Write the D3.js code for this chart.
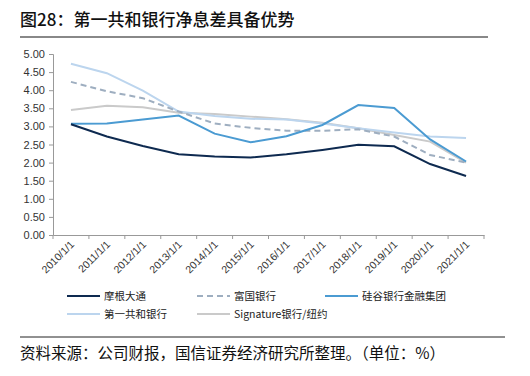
<!DOCTYPE html>
<html><head><meta charset="utf-8">
<script src="https://cdn.jsdelivr.net/npm/d3@7"></script>
<style>body{margin:0;background:#fff;} svg{display:block;}</style>
</head><body>
<svg id="c" width="530" height="376"></svg>
<script>
const categories = ["2010/1/1","2011/1/1","2012/1/1","2013/1/1","2014/1/1","2015/1/1","2016/1/1","2017/1/1","2018/1/1","2019/1/1","2020/1/1","2021/1/1"];
const jpm  = [3.06,2.72,2.46,2.23,2.17,2.14,2.23,2.35,2.49,2.45,1.96,1.63];
const wfc  = [4.23,3.97,3.78,3.41,3.08,2.96,2.88,2.88,2.92,2.72,2.21,2.00];
const svb  = [3.07,3.08,3.19,3.30,2.80,2.56,2.73,3.04,3.59,3.51,2.64,2.03];
const frc  = [4.73,4.47,3.99,3.41,3.29,3.21,3.19,3.08,2.95,2.83,2.72,2.68];
const sbny = [3.45,3.57,3.53,3.38,3.34,3.27,3.20,3.10,2.95,2.76,2.58,2.00];
const seriesNames = ["摩根大通","富国银行","硅谷银行金融集团","第一共和银行","Signature银行/纽约"];
const yTicks = [0,0.5,1,1.5,2,2.5,3,3.5,4,4.5,5];

const series = [
  {name: seriesNames[0], values: jpm,  color: "#0e2a50", dash: null},
  {name: seriesNames[1], values: wfc,  color: "#9eaec0", dash: "6,4"},
  {name: seriesNames[2], values: svb,  color: "#4b9bd2", dash: null},
  {name: seriesNames[3], values: frc,  color: "#bcd5ee", dash: null},
  {name: seriesNames[4], values: sbny, color: "#cacaca", dash: null}
];

const svg = d3.select("#c");
const cjk = "'Noto Sans CJK SC', sans-serif";
const lat = "'Liberation Sans', Arial, sans-serif";

// Title
svg.append("text").attr("x", 20).attr("y", 26)
  .attr("font-family", cjk).attr("font-size", 17).attr("font-weight", 500).attr("fill", "#111")
  .text("图28：第一共和银行净息差具备优势");
svg.append("line").attr("x1", 20).attr("x2", 488).attr("y1", 37).attr("y2", 37)
  .attr("stroke", "#888").attr("stroke-width", 2);

const x = d3.scaleBand().domain(categories).range([53, 484]);
const y = d3.scaleLinear().domain([0, 5]).range([235, 54]);

// Y axis
const ya = svg.append("g").attr("transform", "translate(53,0)")
  .call(d3.axisLeft(y).tickValues(yTicks).tickSize(4).tickFormat(d3.format(".2f")));
ya.select(".domain").attr("stroke", "#999");
ya.selectAll(".tick line").attr("stroke", "#999");
ya.selectAll("text").attr("font-family", lat).attr("font-size", 11).attr("fill", "#333").attr("dx", -1);

// X axis
const xa = svg.append("g").attr("transform", "translate(0,235)")
  .call(d3.axisBottom(x).tickSize(0).tickFormat(d => d));
xa.select(".domain").attr("stroke", "#999");
xa.selectAll(".tick text")
  .attr("font-family", lat).attr("font-size", 10.5).attr("fill", "#333")
  .attr("text-anchor", "end").attr("dy", null).attr("y", 0)
  .attr("transform", "translate(4,10) rotate(-45)");
const bounds = categories.map(c => x(c)).concat([x.range()[1]]);
svg.append("g").selectAll("line").data(bounds).join("line")
  .attr("x1", d => d).attr("x2", d => d).attr("y1", 235).attr("y2", 239)
  .attr("stroke", "#999");

// Lines
const line = d3.line().x((d, i) => x(categories[i]) + x.bandwidth() / 2).y(d => y(d));
const order = [4, 3, 1, 2, 0];
svg.append("g").selectAll("path").data(order.map(i => series[i])).join("path")
  .attr("d", s => line(s.values))
  .attr("fill", "none").attr("stroke", s => s.color).attr("stroke-width", 2)
  .attr("stroke-dasharray", s => s.dash);

// Legend
const legPos = [[67, 296], [197, 296], [325, 296], [67, 314], [197, 314]];
const lg = svg.append("g").selectAll("g").data(series).join("g")
  .attr("transform", (s, i) => `translate(${legPos[i][0]},${legPos[i][1]})`);
lg.append("line").attr("x1", 0).attr("x2", 33).attr("y1", 0).attr("y2", 0)
  .attr("stroke", s => s.color).attr("stroke-width", 2).attr("stroke-dasharray", s => s.dash);
lg.append("text").attr("x", 37).attr("y", 3.7)
  .attr("font-family", cjk).attr("font-size", 10.5).attr("fill", "#222")
  .text(s => s.name);

// Footer
svg.append("line").attr("x1", 20).attr("x2", 505).attr("y1", 337).attr("y2", 337)
  .attr("stroke", "#222").attr("stroke-width", 1);
svg.append("text").attr("x", 20).attr("y", 359)
  .attr("font-family", cjk).attr("font-size", 15.5).attr("fill", "#111")
  .text("资料来源：公司财报，国信证券经济研究所整理。（单位：%）");
</script>
</body></html>
